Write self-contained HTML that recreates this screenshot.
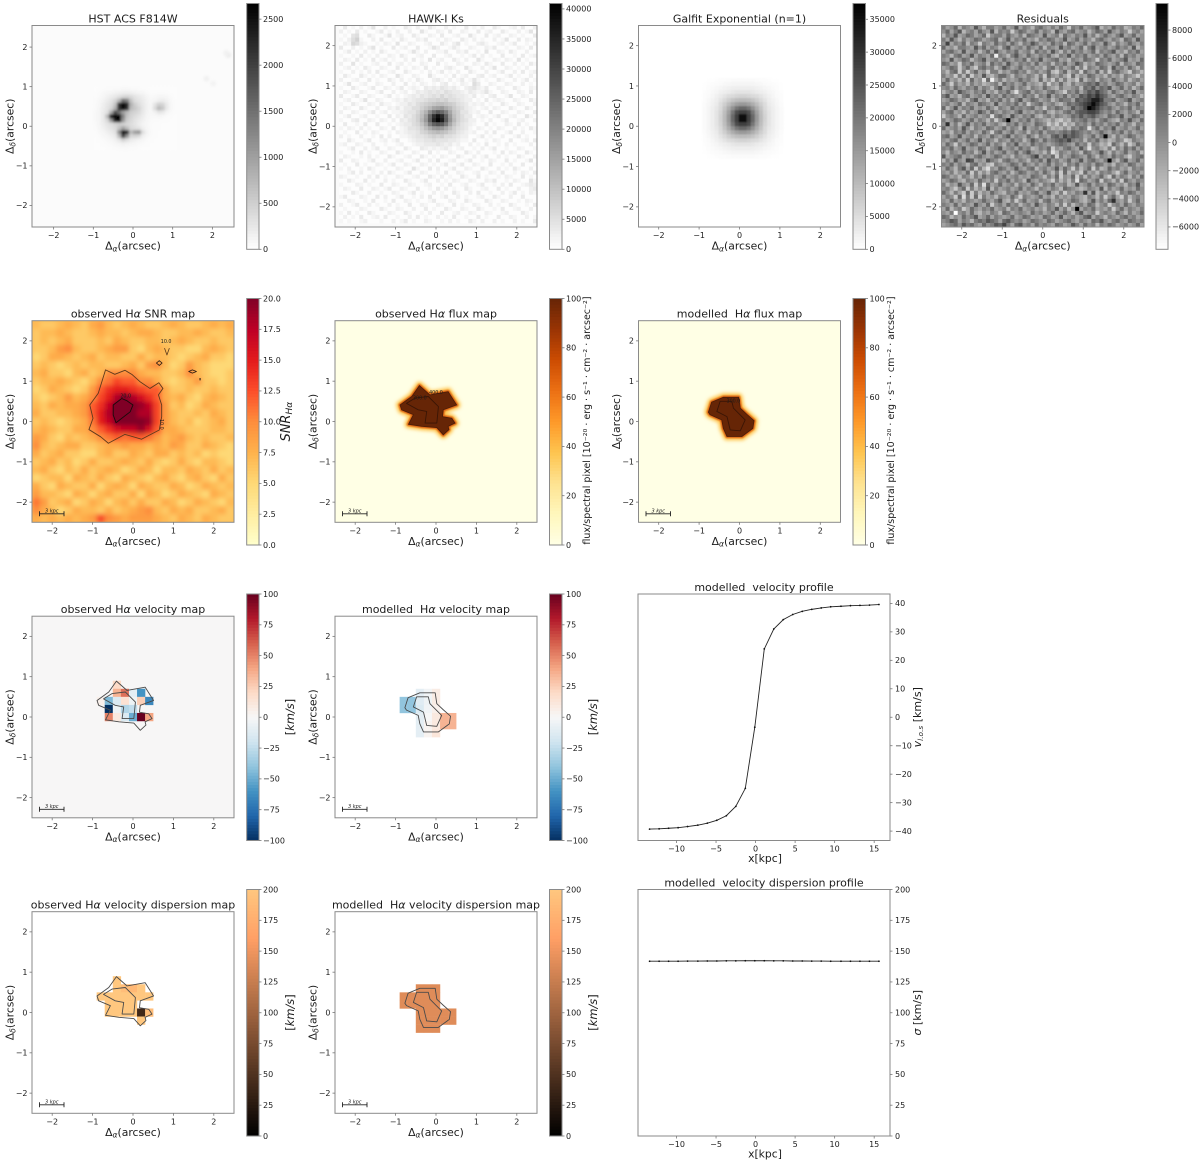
<!DOCTYPE html>
<html>
<head>
<meta charset="utf-8">
<title>Galaxy H-alpha kinematic maps</title>
<style>
html,body{margin:0;padding:0;background:#fff;}
#figure{display:block;filter:blur(0.3px);font-family:"DejaVu Sans","Liberation Sans",sans-serif;}
text{fill:#1c1c1c;}
</style>
</head>
<body>
<svg id="figure" xmlns="http://www.w3.org/2000/svg" width="1200" height="1162" viewBox="0 0 1200 1162">
<defs>
<filter id="blur-large" filterUnits="userSpaceOnUse" x="0" y="0" width="1200" height="1162"><feGaussianBlur stdDeviation="2.4"/></filter>
<filter id="blur-mid" filterUnits="userSpaceOnUse" x="0" y="0" width="1200" height="1162"><feGaussianBlur stdDeviation="1.8"/></filter>
<filter id="blur-hst" filterUnits="userSpaceOnUse" x="0" y="0" width="1200" height="1162"><feGaussianBlur stdDeviation="1.2"/></filter>
<filter id="blur-small" filterUnits="userSpaceOnUse" x="0" y="0" width="1200" height="1162"><feGaussianBlur stdDeviation="0.8"/></filter>
</defs>
</svg>
<script>
/* ---------- profile data ---------- */
const profileX = [-13.4,-12.2,-11,-9.8,-8.6,-7.3,-6.1,-4.9,-3.7,-2.5,-1.3,-0.1,1.1,2.3,3.5,4.7,5.9,7.1,8.3,9.5,10.8,12,13.2,14.4,15.6];
const velocityProfile = [-39.3,-39.2,-39,-38.8,-38.4,-37.9,-37.2,-36.2,-34.6,-31.3,-25,-3.5,24,31,34.3,36.1,37.2,37.9,38.4,38.8,39,39.2,39.3,39.4,39.6];
const dispersionProfile = [141.8,141.8,141.8,141.8,141.9,141.9,142,142,142.1,142.1,142.2,142.2,142.2,142.1,142.1,142,142,141.9,141.9,141.8,141.8,141.8,141.8,141.8,141.8];
const velocityProfileTicks = [-40,-30,-20,-10,0,10,20,30,40];
const dispersionProfileTicks = [0,25,50,75,100,125,150,175,200];
const profileXTicks = [-10,-5,0,5,10,15];

/* ---------- colorbar ticks ---------- */
const hstBarTicks = [0,500,1000,1500,2000,2500];
const hawkBarTicks = [5000,10000,15000,20000,25000,30000,35000,40000,0];
const galfitBarTicks = [0,5000,10000,15000,20000,25000,30000,35000];
const residualBarTicks = [-6000,-4000,-2000,0,2000,4000,6000,8000];
const snrBarTicks = [0,2.5,5,7.5,10,12.5,15,17.5,20];
const fluxBarTicks = [0,20,40,60,80,100];
const velocityBarTicks = [-100,-75,-50,-25,0,25,50,75,100];
const dispersionBarTicks = [0,25,50,75,100,125,150,175,200];
const mapTicks = [-2,-1,0,1,2];

/* ---------- HST core surface brightness, 0.1 arcsec cells, x -1.0..1.1, y 1.0..-0.6 ---------- */
const hstCore = [
[10,20,20,30,30,40,40,50,50,40,40,30,20,20,10,10,10,10,10,10,10],
[20,30,50,70,90,110,130,150,160,140,110,90,70,40,20,20,30,30,20,10,10],
[20,40,80,120,170,220,300,380,420,360,260,200,150,90,40,50,70,80,60,30,10],
[30,60,110,180,260,400,750,1500,1300,600,330,260,190,110,60,90,150,170,120,50,20],
[40,80,150,240,320,600,2200,3500,2300,800,500,330,220,120,70,260,480,420,200,60,20],
[40,90,170,270,400,800,2100,3400,2200,700,560,420,240,120,70,350,720,560,210,60,20],
[50,100,190,300,900,1900,1500,1000,700,500,430,350,210,110,60,120,240,200,90,40,20],
[50,100,200,700,2800,3400,3200,1300,600,430,340,260,170,90,50,50,60,50,30,20,10],
[50,100,200,380,1100,2400,3000,1100,500,380,280,200,130,70,40,30,30,20,20,10,10],
[40,90,170,270,330,420,500,460,390,330,260,170,100,60,30,20,20,10,10,10,10],
[30,70,130,210,280,350,600,950,650,380,320,260,140,70,30,20,20,10,10,10,10],
[20,50,90,140,200,290,1200,3000,2300,700,1000,1100,320,110,40,20,10,10,10,10,10],
[20,30,60,90,130,200,700,2000,1100,400,420,360,140,70,30,20,10,10,10,10,10],
[10,20,30,50,80,120,220,420,300,180,140,100,60,30,20,10,10,10,10,10,10],
[10,10,20,30,40,60,90,120,100,80,60,40,30,20,10,10,10,10,10,10,10],
[10,10,10,20,20,30,40,40,40,30,30,20,10,10,10,10,10,10,10,10,10]
];
const hstSpotX = [2.4,2.35,1.85,2.02];
const hstSpotY = [1.8,1.85,1.2,1.08];
const hstSpotValue = [200,150,150,130];

/* ---------- HAWK-I Ks (thousands), 0.1 arcsec cells, top row y=+2.6 ---------- */
const hawkSky = [
[1,0,2,0,1,0,3,0,0,2,1,0,0,3,0,1,0,0,2,0,1,0,0,4,0,2,0,1,0,3,0,0,1,2,0,0,4,1,0,0,2,0,3,0,1,0,2,0,1,0],
[0,3,0,1,0,2,0,1,4,0,0,2,0,1,0,0,3,1,0,2,0,0,3,1,0,0,2,0,1,0,0,3,0,1,0,2,0,0,3,1,0,0,1,2,0,3,0,0,2,1],
[2,0,1,0,3,0,1,0,0,1,3,0,1,0,2,0,0,2,0,0,4,1,0,0,2,1,0,3,0,0,2,1,0,0,3,0,1,2,0,0,3,1,0,0,2,0,1,4,0,0],
[0,1,0,4,5,0,0,3,1,0,0,1,4,0,1,2,0,0,3,1,0,0,2,1,0,3,0,0,1,2,0,0,4,1,0,0,3,0,1,2,0,0,2,1,0,1,0,0,3,1],
[1,0,2,5,7,1,0,0,2,0,3,0,0,1,0,3,1,0,0,2,1,3,0,0,1,0,2,1,0,0,3,1,0,2,0,1,0,0,2,0,1,4,0,0,3,0,2,1,0,0],
[0,2,1,6,5,2,1,0,0,1,0,2,1,0,4,0,0,2,1,0,0,1,2,0,0,3,1,0,2,4,0,1,0,0,2,3,1,0,0,1,2,0,1,3,0,0,1,0,2,0],
[3,0,0,2,0,1,0,2,4,0,1,0,0,3,0,1,2,0,0,3,0,0,1,4,2,0,0,1,3,1,0,0,2,1,0,0,2,1,3,0,0,1,0,0,2,1,0,3,0,1],
[0,1,3,0,1,0,2,0,1,0,3,1,0,0,1,0,0,1,4,1,0,2,0,0,1,1,3,0,0,2,1,3,0,0,1,0,4,0,0,2,1,0,3,1,0,0,2,0,0,2],
[1,0,0,1,0,3,0,1,0,2,0,0,2,1,0,3,1,0,0,1,2,0,0,3,0,0,1,2,0,0,1,0,1,3,0,2,0,1,0,0,3,0,0,1,0,3,0,1,2,0],
[0,2,1,0,3,0,1,0,3,0,1,2,0,1,0,0,2,0,3,0,1,0,4,0,1,2,0,0,3,1,0,2,0,0,4,1,0,0,2,1,0,2,1,0,4,0,1,0,0,3],
[2,0,0,4,0,1,0,0,1,2,0,0,3,0,1,2,0,1,0,0,2,1,0,0,3,0,1,0,0,2,1,0,0,2,1,0,3,1,0,0,3,0,0,2,0,1,0,3,1,0],
[0,1,2,0,1,0,3,1,0,0,2,1,0,0,3,0,1,0,2,1,0,3,0,1,0,0,2,3,1,0,0,4,1,0,0,2,0,1,4,0,0,2,1,0,1,0,2,0,0,1],
[1,0,0,2,0,1,0,2,0,3,0,0,1,2,0,0,3,1,0,0,1,0,2,0,1,3,0,1,0,2,0,0,3,1,0,0,2,0,0,1,3,0,0,2,0,3,0,1,2,0],
[0,3,1,0,0,3,1,0,1,0,2,1,0,0,4,1,0,0,2,1,0,0,4,1,0,0,1,0,3,0,1,2,0,0,2,3,0,1,2,0,0,1,3,0,1,0,0,2,0,1],
[2,0,0,1,2,0,0,3,0,1,0,0,3,1,0,2,0,1,0,3,1,0,0,2,3,1,0,2,0,1,3,0,1,4,1,0,1,0,0,3,1,0,0,2,0,1,3,0,1,0],
[0,1,4,0,0,1,2,0,0,2,1,0,0,2,0,0,3,0,1,0,2,1,0,1,0,2,3,0,1,0,2,1,0,5,3,0,0,2,1,0,0,2,1,0,0,2,0,1,0,2],
[1,0,0,3,1,0,0,1,3,0,0,2,1,0,1,3,0,1,2,1,0,3,2,3,2,4,3,2,3,1,0,2,3,4,2,1,3,0,0,2,1,0,0,3,1,0,0,2,1,0],
[0,2,1,0,0,2,1,0,0,1,3,0,0,2,0,1,2,0,1,3,2,3,4,3,4,3,5,4,3,3,2,1,3,2,1,2,4,1,0,0,2,1,0,0,2,1,0,3,0,0],
[3,0,0,1,3,0,0,2,1,0,0,1,3,0,1,0,1,2,3,2,4,3,4,5,4,6,4,5,4,3,3,2,1,3,0,1,0,2,3,0,0,1,4,0,0,2,1,0,0,3],
[0,1,2,0,0,1,4,0,0,2,1,0,0,1,2,1,3,2,3,4,4,5,6,6,7,6,7,5,5,4,3,2,2,0,1,0,3,0,1,2,1,0,0,2,1,0,0,3,1,0],
[1,0,0,3,1,0,0,2,1,0,3,1,1,0,1,2,2,4,3,5,6,7,8,9,10,10,9,8,7,5,4,3,1,2,1,2,0,1,0,0,3,1,0,0,2,1,0,0,2,1],
[0,2,1,0,0,3,1,0,0,2,0,0,2,1,3,1,3,3,5,5,7,9,11,14,15,16,13,11,8,6,5,3,2,1,0,1,2,0,2,1,0,0,3,1,0,0,3,1,0,0],
[2,0,0,2,1,0,0,1,3,0,1,2,0,1,1,2,3,4,4,6,9,12,18,23,26,24,20,14,9,7,4,4,2,1,2,0,0,3,0,0,2,1,0,0,2,1,0,0,3,1],
[0,1,3,0,0,1,2,0,0,1,0,0,3,0,2,1,4,3,5,7,10,15,24,33,38,34,25,16,10,7,5,3,3,0,1,2,1,0,1,3,0,0,1,2,0,0,4,1,0,0],
[1,0,0,2,3,0,0,2,1,0,2,1,0,2,0,3,2,4,5,7,11,16,25,35,40,36,26,17,11,7,5,4,2,2,0,1,0,2,0,0,1,3,0,0,1,2,0,0,2,0],
[0,3,0,0,1,0,3,0,0,3,0,0,1,0,1,2,3,3,5,6,9,13,20,25,27,26,21,14,9,6,4,3,2,1,0,0,3,0,1,0,0,2,1,0,3,0,1,0,0,2],
[1,0,2,1,0,2,0,1,0,0,2,1,0,3,0,1,2,4,4,5,7,10,13,16,17,16,13,10,7,5,4,3,1,0,2,1,0,1,0,2,1,0,0,2,0,1,0,3,1,0],
[0,1,0,0,3,0,1,0,2,1,0,0,1,0,2,1,2,3,3,4,6,7,9,10,11,10,9,7,6,4,3,2,1,2,0,0,2,0,3,0,0,1,3,0,0,2,0,0,1,2],
[2,0,1,0,0,2,0,0,1,0,3,0,2,0,0,1,1,2,3,4,4,5,6,7,6,7,5,5,4,3,2,2,0,0,1,3,0,1,0,0,2,0,0,1,3,0,1,0,0,0],
[0,0,3,1,0,0,1,3,0,0,1,2,0,1,3,0,0,1,2,3,3,4,4,5,4,4,4,3,3,2,1,1,0,3,0,0,1,0,2,1,0,0,3,0,0,1,2,0,3,1],
[1,2,0,0,2,1,0,0,2,0,0,1,0,0,1,2,0,0,1,2,2,3,3,3,4,3,2,3,1,2,0,0,2,0,1,0,3,0,0,1,0,2,0,1,0,0,0,2,0,0],
[0,0,1,3,0,0,2,0,1,3,0,0,2,1,0,0,3,1,0,0,3,2,1,2,1,2,3,1,0,1,2,0,0,1,0,2,0,1,3,0,0,1,0,0,2,1,0,0,1,3],
[1,0,0,1,0,3,0,1,0,0,2,1,0,0,3,1,0,0,2,1,0,0,3,0,1,0,0,2,1,0,0,3,1,0,2,0,0,0,1,0,3,0,2,1,0,0,3,1,0,0],
[0,2,1,0,0,1,0,2,0,1,0,0,3,1,0,0,1,2,0,0,3,1,0,1,0,2,1,0,0,3,1,0,0,2,0,1,3,0,0,2,0,1,0,0,3,1,0,0,2,1],
[3,0,0,2,1,0,0,1,3,0,0,2,0,0,1,2,0,0,1,3,0,0,2,0,3,0,0,1,2,0,0,1,3,0,0,1,0,2,1,0,0,3,0,1,0,0,1,4,0,0],
[0,1,0,0,3,0,1,0,0,2,1,0,1,3,0,0,2,1,0,0,2,1,0,1,0,1,3,0,0,1,3,0,0,2,1,0,0,3,0,0,1,0,2,0,0,3,0,0,1,2],
[1,0,2,0,0,1,0,3,1,0,0,1,0,0,2,1,0,0,4,1,0,0,3,0,2,0,0,1,3,0,0,2,1,0,0,3,1,0,0,2,0,1,0,3,1,0,0,2,0,0],
[0,0,1,3,0,2,0,0,1,0,2,0,3,1,0,0,1,3,0,0,2,1,0,0,1,0,3,0,0,2,1,0,0,1,2,0,0,2,1,0,3,0,0,1,0,2,1,0,3,1],
[2,1,0,0,1,0,0,2,0,3,0,1,0,0,2,1,0,0,1,2,0,0,3,1,0,2,0,1,0,0,3,1,0,0,3,0,1,0,0,1,0,2,1,0,0,3,0,1,0,0],
[0,0,3,1,0,0,3,0,1,0,0,2,0,1,0,0,3,1,0,0,1,3,0,0,2,0,1,0,2,1,0,0,2,1,0,0,2,1,3,0,0,1,0,2,1,0,0,4,1,0],
[1,0,0,0,2,1,0,1,0,0,3,0,0,2,1,0,0,2,1,0,0,1,2,0,0,1,0,3,0,0,1,2,0,0,1,3,0,0,1,0,2,0,3,0,0,1,2,3,2,0],
[0,2,1,0,0,3,0,0,2,1,0,1,3,0,0,2,1,0,0,3,0,0,1,0,3,0,2,0,1,0,0,3,1,0,0,1,2,0,0,3,0,1,0,0,2,0,0,2,3,1],
[0,0,0,3,1,0,0,2,0,0,1,0,0,2,1,0,0,1,3,0,1,0,0,2,0,1,0,0,3,1,0,0,2,0,3,0,0,1,0,0,2,0,1,3,0,1,0,2,1,0],
[1,3,0,0,0,2,1,0,0,3,0,2,0,0,1,3,0,0,1,0,2,0,3,0,0,1,3,0,0,2,0,1,0,0,1,2,0,0,3,1,0,0,2,0,0,3,0,0,0,2],
[0,0,2,1,0,0,1,0,3,0,0,1,0,3,0,0,2,1,0,1,0,0,1,3,0,0,0,2,1,0,0,3,1,0,0,0,3,1,0,0,2,1,0,0,1,0,2,1,0,0],
[2,0,0,1,3,0,0,2,0,1,0,0,2,0,1,0,0,3,0,0,2,1,0,0,2,1,0,0,3,0,1,0,0,2,1,0,0,2,0,1,0,0,3,1,0,0,1,0,3,0],
[0,1,0,0,0,2,1,0,0,0,3,1,0,0,2,1,0,0,2,0,0,3,0,1,0,0,3,1,0,0,2,1,0,0,3,1,0,0,1,0,3,0,0,1,2,0,0,2,0,1],
[1,0,3,0,1,0,0,3,1,0,0,0,2,1,0,0,3,1,0,0,1,0,2,0,0,3,0,0,1,2,0,0,2,1,0,0,2,1,0,0,1,2,0,0,0,3,1,0,0,2],
[0,2,0,1,0,3,0,0,1,2,0,3,0,0,1,0,0,2,0,3,0,1,0,0,2,0,1,0,3,0,0,1,0,0,3,0,1,0,0,3,0,0,2,1,0,0,2,0,1,0],
[1,0,1,0,0,1,2,0,0,0,1,0,0,2,0,1,3,0,1,0,0,2,1,0,0,1,0,2,0,1,0,0,3,1,0,2,0,0,2,0,1,0,0,2,0,1,0,0,3,0]
];
/* Galfit model (thousands), 0.1 arcsec cells, x -0.92..1.08, y 1.2..-0.8 */
const galfitCore = [
[0,0.1,0.2,0.3,0.4,0.5,0.6,0.7,0.8,0.8,0.8,0.8,0.7,0.6,0.5,0.4,0.3,0.2,0.1,0],
[0.1,0.3,0.4,0.6,0.8,1,1.2,1.4,1.5,1.5,1.5,1.5,1.4,1.2,1,0.8,0.6,0.4,0.3,0.1],
[0.2,0.4,0.7,1,1.3,1.7,2,2.3,2.5,2.5,2.5,2.5,2.3,2,1.7,1.3,1,0.7,0.4,0.2],
[0.3,0.6,1,1.5,2,2.5,3,3.5,4,4,4,4,3.5,3,2.5,2,1.5,1,0.6,0.3],
[0.4,0.8,1.3,2,3,4,5,5.5,6,6.5,6.5,6,5.5,5,4,3,2,1.3,0.8,0.4],
[0.5,1,1.7,2.5,4,5.5,7,8.5,9.5,10,10,9.5,8.5,7,5.5,4,2.5,1.7,1,0.5],
[0.6,1.2,2,3,5,7,9.5,12,14,15,15,14,12,9.5,7,5,3,2,1.2,0.6],
[0.7,1.4,2.3,3.5,5.5,8.5,12,16,20,22,22,20,16,12,8.5,5.5,3.5,2.3,1.4,0.7],
[0.8,1.5,2.5,4,6,9.5,14,20,26,28,28,26,20,14,9.5,6,4,2.5,1.5,0.8],
[0.8,1.5,2.5,4,6.5,10,15,22,28,35,35,28,22,15,10,6.5,4,2.5,1.5,0.8],
[0.8,1.5,2.5,4,6.5,10,15,22,28,35,35,28,22,15,10,6.5,4,2.5,1.5,0.8],
[0.8,1.5,2.5,4,6,9.5,14,20,26,28,28,26,20,14,9.5,6,4,2.5,1.5,0.8],
[0.7,1.4,2.3,3.5,5.5,8.5,12,16,20,22,22,20,16,12,8.5,5.5,3.5,2.3,1.4,0.7],
[0.6,1.2,2,3,5,7,9.5,12,14,15,15,14,12,9.5,7,5,3,2,1.2,0.6],
[0.5,1,1.7,2.5,4,5.5,7,8.5,9.5,10,10,9.5,8.5,7,5.5,4,2.5,1.7,1,0.5],
[0.4,0.8,1.3,2,3,4,5,5.5,6,6.5,6.5,6,5.5,5,4,3,2,1.3,0.8,0.4],
[0.3,0.6,1,1.5,2,2.5,3,3.5,4,4,4,4,3.5,3,2.5,2,1.5,1,0.6,0.3],
[0.2,0.4,0.7,1,1.3,1.7,2,2.3,2.5,2.5,2.5,2.5,2.3,2,1.7,1.3,1,0.7,0.4,0.2],
[0.1,0.3,0.4,0.6,0.8,1,1.2,1.4,1.5,1.5,1.5,1.5,1.4,1.2,1,0.8,0.6,0.4,0.3,0.1],
[0,0.1,0.2,0.3,0.4,0.5,0.6,0.7,0.8,0.8,0.8,0.8,0.7,0.6,0.5,0.4,0.3,0.2,0.1,0]
];

/* ---------- residuals (units of 1300 counts), 0.1 arcsec cells, top row y=+2.5 ---------- */
const residuals = [
[1,-1,0,2,-2,1,0,-1,3,0,-2,1,1,-1,0,2,-1,0,3,-1,1,0,-2,1,2,0,-1,1,-1,2,0,-3,1,0,2,-1,0,1,3,-2,0,-1,2,0,1,-2,-1,1,0,2],
[0,2,-1,1,3,-2,0,1,-1,2,0,-1,3,-2,1,0,1,-3,0,2,1,-1,0,2,-1,1,0,-2,3,0,-1,1,2,-1,0,1,-2,0,2,1,-1,3,0,-1,1,0,-3,0,1,-1],
[-2,1,0,3,-1,0,2,1,-1,0,2,-3,0,1,1,-1,2,0,-1,1,-2,2,1,0,-1,3,-1,0,1,-2,2,0,-1,1,0,3,-1,1,-2,0,2,0,-1,1,3,-1,0,2,-1,0],
[1,-1,3,0,-2,1,-1,0,2,1,-1,0,1,2,-2,0,3,-1,1,0,2,-1,0,-2,1,0,2,1,-1,0,3,-1,0,2,-1,1,0,-2,1,2,0,-1,1,0,-2,2,1,-1,3,0],
[0,4,-1,1,0,2,-2,1,0,-3,1,0,-1,2,0,1,-1,2,0,-2,1,0,3,1,-1,0,-1,2,0,1,-2,2,1,-1,0,2,-1,1,0,-1,3,0,-2,1,-1,0,2,0,-1,1],
[2,-1,0,-2,1,1,0,-1,3,0,2,-1,1,0,-2,1,3,-1,0,1,-1,2,0,-1,2,-2,1,0,-1,3,0,1,-1,0,2,-2,1,3,-1,0,1,-1,0,2,0,1,-1,3,-2,0],
[-1,1,2,0,-1,3,-1,0,1,-2,0,2,-1,3,0,-1,1,0,2,-1,0,1,-2,2,0,1,-1,3,0,-2,1,-1,2,0,1,-1,0,2,-2,1,0,1,3,-1,0,-2,1,0,2,-1],
[1,0,-2,1,2,-1,0,3,-1,1,0,-1,2,-5,1,0,-2,1,3,0,-1,2,0,-1,1,0,2,-1,-2,1,0,3,-1,1,0,2,-1,0,1,-1,2,0,-1,1,-2,2,0,1,-1,0],
[0,-1,3,-1,0,2,1,-2,0,1,3,-1,0,1,-1,2,0,-1,1,0,2,-2,1,0,3,-1,0,1,2,-1,0,-2,1,0,-1,2,1,0,-3,1,0,2,-1,0,1,3,-1,0,-1,2],
[2,1,-1,0,-3,1,0,2,-1,0,1,-2,2,0,1,-1,3,0,-1,1,0,1,-1,2,-1,0,1,-2,1,0,2,-1,0,3,1,-2,0,-1,2,1,0,-1,0,2,-2,1,0,-1,2,1],
[-1,0,2,1,-3,0,2,-1,-3,1,2,0,1,-2,0,3,1,-1,0,2,-1,0,1,-1,0,-2,1,2,-1,1,-1,0,2,-2,1,-3,1,0,-1,2,1,-2,3,0,1,-1,2,0,-2,1],
[0,-2,1,2,-3,1,-3,0,2,-1,0,-3,1,1,-2,0,-1,1,2,0,1,-2,0,1,-1,0,2,-2,-3,0,2,-2,0,1,-3,2,0,-1,2,-2,1,-3,1,2,0,-1,-3,1,0,-2],
[1,-1,0,-3,1,-2,2,-3,0,-1,3,-1,-2,0,2,2,0,-2,1,0,-1,1,0,-2,1,-3,2,0,-1,1,-1,-3,2,-2,0,-1,2,1,-1,0,-2,1,-1,0,-2,1,0,-1,-3,0],
[-1,2,-1,0,-2,1,-3,2,-1,0,-4,2,-5,-1,1,-2,0,-1,0,2,0,1,-1,-2,2,-2,0,-3,1,-2,1,-2,-1,-3,2,-2,0,1,-2,1,0,-1,2,0,-1,1,-2,0,1,-1],
[2,0,-3,1,-1,0,-2,1,-1,0,-2,-1,0,1,-2,2,0,1,-1,0,2,-1,0,-1,-2,1,-3,0,-1,2,-1,-2,1,-1,0,1,2,1,3,0,1,-1,0,2,1,-1,0,1,-2,0],
[0,1,-1,2,0,-1,1,0,2,-1,1,0,-2,1,3,-1,0,2,-1,1,0,-2,1,0,-1,2,0,-1,-2,1,-1,-1,0,1,-2,2,1,3,0,2,1,3,-1,0,2,-1,1,-2,0,2],
[-2,0,1,-1,3,1,0,-1,1,0,2,-1,0,-2,1,0,2,-1,-4,0,1,2,-1,1,0,-1,1,2,0,-1,-3,1,0,2,-1,1,3,2,4,2,1,-1,2,0,-1,1,0,3,-1,0],
[1,3,-1,0,-2,1,2,-1,0,1,-1,3,0,1,-1,2,0,1,0,-1,2,0,1,-2,1,0,3,-1,1,0,2,-1,1,0,3,2,4,3,5,3,2,0,-1,1,2,0,-1,1,0,-2],
[-1,0,2,1,-1,0,-2,1,3,-1,0,-2,1,0,2,-1,1,-2,1,3,-1,0,2,1,-1,0,1,-2,0,2,1,1,-1,3,2,3,4,6,6,4,1,1,2,-1,0,1,3,-1,0,1],
[0,1,-1,0,2,-2,1,0,-1,2,1,0,-1,3,-1,0,1,0,2,-1,1,-3,0,1,2,-1,0,1,-1,-2,0,2,1,2,3,4,5,7,5,3,2,0,-1,1,0,-2,1,0,2,-1],
[2,-2,0,3,-1,1,0,2,-1,0,-1,2,0,-2,1,0,-1,2,0,1,0,1,2,-1,0,-3,1,0,2,1,-1,0,3,1,2,4,10,6,4,2,1,2,0,-1,1,0,2,-1,1,0],
[-1,1,2,-1,0,-2,1,-1,0,3,1,-1,2,0,-1,1,0,-1,1,3,-1,0,-1,1,0,2,-1,-2,0,-1,1,2,0,2,3,3,4,4,3,1,0,1,-1,2,0,-1,1,0,-2,2],
[-3,0,1,0,-2,2,-1,0,1,-1,0,1,-4,1,2,0,-1,3,0,-1,1,0,2,-1,-2,0,1,-1,1,0,-1,0,2,1,3,1,2,3,1,0,-1,2,1,0,3,-1,0,2,1,-1],
[1,-1,0,2,1,-1,0,2,-1,1,0,-2,1,-3,0,2,9,0,-1,1,0,2,-1,1,0,-1,-2,0,-2,-3,-1,-2,1,0,1,2,0,1,-1,1,2,0,-1,-2,1,0,3,0,-1,2],
[0,5,-1,1,-2,0,3,-1,1,0,2,-1,0,1,-1,-2,1,0,2,-1,1,0,-1,2,1,0,-3,-1,-3,0,-3,-1,-2,1,0,1,-1,2,0,1,-1,1,0,2,-1,1,0,-2,1,0],
[2,-1,0,1,-1,3,0,-2,1,0,-1,2,1,-1,0,2,-1,1,0,-2,3,-1,0,1,-1,2,0,-2,-1,-2,0,-2,1,0,2,1,-4,0,2,-1,1,0,3,-1,0,1,-1,0,2,-1],
[-1,0,-2,1,0,2,-1,1,0,-1,2,0,-3,1,2,-1,0,2,-1,0,1,-2,1,0,2,-1,1,1,0,1,2,1,3,2,1,0,1,-1,0,2,0,-1,1,0,2,-1,1,-1,0,1],
[1,2,-1,0,3,-1,0,1,-2,1,0,-1,2,0,-1,1,3,-1,1,0,-1,2,0,-2,1,0,-1,2,3,1,4,2,3,2,1,-1,0,2,-1,1,7,0,-2,1,-1,0,2,1,-1,0],
[0,-1,1,2,-1,0,2,-1,0,3,-1,1,0,-2,1,0,-1,2,0,1,-2,0,3,1,-1,2,0,1,2,3,2,4,1,0,1,-2,1,0,2,-1,0,-2,-1,1,0,-3,-2,1,0,-1],
[-1,2,0,-3,1,-1,0,2,1,-1,0,2,-1,1,0,-2,1,0,3,-1,0,-1,2,0,1,0,-1,0,1,2,1,0,-1,2,0,1,-3,1,0,-2,-1,-3,2,0,-2,1,-3,-1,2,0],
[1,0,2,-1,0,3,-1,0,-1,2,1,-2,0,1,3,-1,0,1,-1,2,0,1,-2,-1,1,0,2,-3,0,-1,1,2,0,-1,3,0,-4,0,1,-1,-2,1,-3,1,-1,2,0,2,-1,1],
[0,-2,1,0,-1,2,0,1,-2,0,3,-1,1,-1,0,2,-1,0,2,-1,1,3,0,-1,0,-2,1,-4,-2,1,0,-1,1,0,-2,2,1,-1,0,3,0,-2,1,-1,0,2,-1,0,1,-2],
[3,-1,0,1,2,-1,0,-1,1,2,0,-1,0,2,1,-1,0,-2,1,0,-1,0,2,4,-1,1,0,2,-3,1,-1,0,2,1,0,-1,2,0,-2,1,0,-1,2,0,1,-1,-3,0,1,2],
[-2,1,-1,3,0,-1,4,3,-1,0,-1,3,1,0,-2,1,2,0,-1,1,0,-2,1,0,2,-1,3,0,1,-1,0,2,-1,0,3,-1,1,2,0,-1,1,7,0,-2,1,3,-1,0,2,-1],
[1,0,2,-1,1,0,-2,1,2,-1,0,-2,-3,1,0,-1,0,2,1,-1,2,0,-1,1,-1,0,2,-1,1,0,-2,1,0,2,-1,0,1,-1,2,1,-1,0,-2,1,0,-1,2,1,-1,0],
[-1,2,0,-2,1,3,-1,2,-3,1,-2,-4,0,-1,2,1,-1,0,3,0,-1,1,2,-2,0,1,-1,0,3,-1,2,0,-3,1,-2,0,2,-3,1,-2,-1,2,0,1,-1,0,-2,1,0,1],
[0,-1,1,-2,0,-1,2,-3,1,-2,0,-2,1,2,0,-1,1,-2,0,2,1,-1,0,1,-1,2,0,-2,1,-3,2,-2,0,-1,-3,2,-1,0,-2,1,0,1,-1,-3,0,2,-1,0,1,-1],
[2,1,-1,0,-2,1,0,-2,1,-1,2,0,1,-1,0,2,-1,0,1,-1,0,-1,2,1,0,-2,1,-1,2,-3,0,-1,2,-3,1,-2,1,-1,0,2,-1,-3,2,-1,1,0,-2,1,-1,2],
[-1,0,2,1,-1,-2,1,0,-1,2,0,-1,1,-3,1,0,2,-1,1,0,-2,3,0,-1,1,0,-1,-3,1,-2,0,-2,1,-4,2,1,-1,0,2,-3,1,0,-2,1,-3,2,0,-1,1,0],
[1,-2,0,-1,3,0,-1,2,-3,1,-4,2,-1,0,2,-1,0,1,-2,1,0,-1,2,0,-2,1,0,2,-1,0,1,-2,-1,3,-1,0,2,-1,1,0,-1,2,1,-1,0,-2,1,0,3,-1],
[0,1,-1,-3,0,2,-3,1,-2,0,-2,3,-2,1,-1,0,1,-1,0,2,-1,1,0,-2,1,0,-1,1,0,-2,2,1,0,-1,-2,-1,1,0,-1,3,-2,1,-1,0,2,-1,0,-1,2,0],
[2,0,-2,1,-1,-3,2,-3,1,-2,0,-1,2,0,-1,-2,1,0,2,-1,0,-1,1,2,-1,0,3,-1,-2,1,-3,0,-1,1,0,5,-1,3,-2,0,1,-1,0,-3,1,0,2,1,-1,0],
[-1,1,0,-3,2,-4,1,-3,2,-3,1,-1,0,-2,1,0,-1,2,0,-3,1,0,-1,0,2,-1,0,-2,1,-1,0,-1,1,0,-1,-2,1,0,-2,1,-3,0,2,-1,-3,1,-2,0,1,-1],
[0,-1,2,-1,0,-2,1,0,-1,0,2,0,-1,1,3,-1,-2,1,-3,0,2,-1,0,1,-2,1,2,-1,0,1,-1,0,2,1,-1,-2,0,3,-1,1,-1,2,5,0,-1,1,-3,0,2,-1],
[1,0,-1,2,-1,1,0,-1,3,0,-1,2,-3,0,1,-1,2,0,1,-2,0,1,-1,3,0,-1,1,0,-2,1,-3,1,-2,0,1,-1,2,1,-2,0,1,-3,0,1,-1,2,0,-1,1,0],
[-1,2,-2,0,1,-3,-1,2,0,-1,1,0,2,-1,0,1,-2,1,0,2,-1,0,1,-1,0,-2,1,0,3,-1,1,-2,0,8,-1,1,0,2,-1,0,-1,1,-3,0,2,-1,1,0,-1,1],
[0,-1,1,-7,0,1,-1,2,-1,-2,0,-1,1,0,-2,2,1,-1,0,1,0,-1,2,0,1,-1,0,2,-1,0,2,0,-2,1,3,-1,0,1,-3,0,1,0,-1,2,0,-2,1,-1,0,2],
[2,1,-2,0,-1,2,0,1,3,-1,0,2,-1,1,0,-1,0,2,-1,0,2,1,-1,0,-1,2,1,-1,0,3,-1,0,1,-1,0,2,3,-1,1,0,-2,1,0,-1,1,2,0,1,-1,0],
[0,1,3,2,-1,1,0,-2,1,2,1,3,2,1,-1,2,3,1,0,1,-1,0,2,1,0,-1,2,1,-1,0,1,2,0,-1,1,0,-1,2,1,3,0,-1,1,2,0,-1,2,1,0,1],
[-1,0,1,2,0,3,1,2,0,-1,2,0,1,3,2,4,1,-1,2,3,0,1,-1,2,0,1,0,-1,2,1,-1,0,3,1,-1,2,0,1,-2,1,0,2,1,-1,0,1,-1,0,2,-1]
];

/* ---------- SNR map, 0.2 arcsec cells, top row y=+2.4 ---------- */
const snrGrid = [
[7,6,6,7,8,7,6,8,9,7,6,7,8,7,6,6,7,8,7,6,6,7,8,7,8],
[6,7,7,8,7,6,6,7,8,7,7,6,7,8,8,7,6,6,7,7,8,7,6,6,7],
[6,7,6,7,8,6,6,6,7,6,8,7,6,6,7,7,6,7,8,7,6,6,7,6,6],
[6,6,7,9,10,7,6,6,7,8,9,9,6,5,7,8,7,6,6,5,5,7,8,7,6],
[5,6,8,8,7,6,7,8,6,7,7,6,6,8,6,7,7,6,5,6,7,8,6,6,5],
[6,7,6,5,6,7,6,7,7,6,6,7,8,6,9,10,7,5,6,9,7,6,5,5,5],
[7,8,6,6,5,7,8,6,7,10,10,10,10,8,7,7,6,6,7,10,7,6,5,5,6],
[6,7,7,8,7,6,5,7,10,11,13,12,12,10,10,8,6,5,6,7,9,6,6,5,6],
[5,6,8,7,6,5,6,9,12,14,15,15,14,13,12,12,8,6,6,7,6,6,7,6,6],
[6,5,6,7,9,7,8,10,13,15,18,20,18,16,14,12,8,7,8,6,5,7,8,7,6],
[7,6,8,7,8,8,9,12,14,17,20,21,20,19,17,13,9,6,7,5,6,8,7,6,6],
[8,6,6,7,7,8,9,12,15,18,21,21,20,18,18,13,9,7,6,6,7,6,8,7,6],
[6,7,6,5,6,7,8,11,15,17,20,20,20,20,19,13,9,7,6,7,5,6,7,8,6],
[7,8,7,6,6,8,8,10,12,14,16,17,17,19,16,12,8,8,7,6,6,6,7,7,6],
[9,8,6,5,7,6,7,8,10,11,12,11,12,12,11,9,7,8,9,7,6,7,6,6,7],
[10,7,6,7,8,8,6,6,7,8,8,9,8,8,7,8,7,9,8,6,6,8,7,6,5],
[8,6,7,8,6,6,5,5,7,8,6,6,8,7,6,8,8,6,7,6,7,5,6,5,5],
[6,7,8,6,7,5,6,8,6,6,7,8,7,6,8,6,5,6,8,6,5,7,7,6,5],
[7,8,6,5,7,6,8,6,7,8,7,5,6,8,7,5,7,7,6,8,7,6,8,6,7],
[5,6,7,7,5,8,7,6,8,6,5,8,7,6,5,7,8,6,5,7,8,6,5,8,6],
[8,6,5,8,7,6,6,8,5,7,8,7,5,8,7,6,6,8,7,5,6,8,7,6,7],
[9,7,7,6,5,8,7,5,7,8,6,6,8,5,8,7,5,6,8,7,6,5,8,7,6],
[11,9,6,7,8,5,6,8,7,5,7,8,6,8,6,6,8,7,5,6,8,7,6,5,7],
[10,8,7,5,6,8,7,7,6,8,6,7,8,9,10,7,6,8,7,8,6,6,7,8,6],
[8,7,8,7,8,7,8,9,13,10,9,8,9,9,9,8,7,6,8,7,6,8,7,6,6]
];
const snrOuterX = [-0.68,-0.45,-0.2,-0.03,0.17,0.42,0.64,0.74,0.63,0.71,0.71,0.65,0.21,-0.2,-0.61,-0.8,-1.09,-0.99,-1.07,-0.86];
const snrOuterY = [1.28,1.17,1.27,1.17,0.99,0.82,0.96,0.82,0.66,0.41,0.12,-0.21,-0.44,-0.32,-0.54,-0.38,-0.2,0.08,0.41,0.7];
const snrInnerX = [-0.49,-0.28,-0.16,0,-0.07,-0.42,-0.49];
const snrInnerY = [0.41,0.57,0.52,0.41,0.24,-0.03,0.16];
const snrIslandAX = [0.58,0.65,0.72,0.65];
const snrIslandAY = [1.45,1.51,1.45,1.39];
const snrIslandBX = [1.38,1.47,1.57,1.47];
const snrIslandBY = [1.24,1.28,1.24,1.2];
const snrVeeX = [0.78,0.84,0.9];
const snrVeeY = [1.82,1.65,1.82];
const snrDotX = [1.66];
const snrDotY = [1.05];

/* ---------- flux contours (arcsec) ---------- */
const obsOuterX = [-0.89,-0.6,-0.41,-0.15,0.3,0.51,0.18,0.16,0.39,0.47,0.3,0.32,0.18,0.02,-0.35,-0.68,-0.56,-0.85];
const obsOuterY = [0.41,0.62,0.89,0.66,0.74,0.41,0.29,0.12,0.08,-0.04,-0.12,-0.2,-0.33,-0.15,-0.12,-0.07,0.17,0.29];
const obsInnerX = [-0.73,-0.44,-0.23,-0.27,0.02,0.06,-0.19,-0.52];
const obsInnerY = [0.45,0.29,0.25,-0.04,-0.04,0.37,0.62,0.58];
const modelOuterX = [-0.77,-0.69,-0.4,-0.02,0.02,0.18,0.36,0.33,0.06,-0.31,-0.4,-0.44,-0.73];
const modelOuterY = [0.23,0.48,0.6,0.6,0.33,0.18,0.02,-0.17,-0.37,-0.37,-0.17,0.04,0.17];
const modelInnerX = [-0.48,-0.56,-0.31,-0.23,0.02,0.14,-0.15,-0.19];
const modelInnerY = [0.5,0.25,0.12,-0.21,-0.23,0.04,0.33,0.5];

/* ---------- kinematic cells, 0.2 arcsec, x -0.9..0.5, rows y 0.9..-0.3 / 0.7..-0.5 ---------- */
const obsVelocity = [
[null,null,20,null,null,null,null],
[null,null,35,55,-10,-60,null],
[5,-45,-15,15,-5,25,-65],
[null,-100,-5,-30,-25,null,null],
[null,50,10,-15,-50,100,40]
];
const modelVelocity = [
[null,null,-10,-3,8,null,null],
[-40,-40,-12,-5,8,null,null],
[-40,-40,-15,-3,5,null,null],
[null,null,-10,0,10,35,35],
[null,null,-10,3,10,35,35],
[null,null,-10,3,12,null,null]
];
const obsDispersion = [
[null,null,200,null,null,null,null],
[null,null,200,190,185,200,null],
[200,200,200,200,200,200,200],
[null,200,200,200,200,null,null],
[null,200,200,200,200,40,190],
[null,null,null,null,null,200,null]
];
const modelDispersion = [
[null,null,140,140,140,null,null],
[140,140,140,140,140,null,null],
[140,140,140,140,140,null,null],
[null,null,140,140,140,140,140],
[null,null,140,140,140,140,140],
[null,null,140,140,140,null,null]
];

/* ---------- colormaps ---------- */
const cmapYlOrRd = ['#ffffcc','#ffeda0','#fed976','#feb24c','#fd8d3c','#fc4e2a','#e31a1c','#bd0026','#800026'];
const cmapYlOrBr = ['#ffffe5','#fff7bc','#fee391','#fec44f','#fe9929','#ec7014','#cc4c02','#993404','#662506'];
const cmapRdBu = ['#053061','#2166ac','#4393c3','#92c5de','#d1e5f0','#f7f7f7','#fddbc7','#f4a582','#d6604d','#b2182b','#67001f'];
const cmapCopper = ['#000000','#402819','#805033','#bf784c','#ff9f65','#ffc77f'];
const cmapGray = ['#ffffff','#000000'];

/* ---------- helpers ---------- */
const NS = 'http://www.w3.org/2000/svg';
const root = document.getElementById('figure');
function make(tag, parent, attrs) {
  const e = document.createElementNS(NS, tag);
  for (const k in attrs) e.setAttribute(k, attrs[k]);
  parent.appendChild(e);
  return e;
}
function hex(c) { return [parseInt(c.slice(1,3),16),parseInt(c.slice(3,5),16),parseInt(c.slice(5,7),16)]; }
function colorAt(stops, t) {
  t = Math.max(0, Math.min(1, t));
  const p = t * (stops.length - 1), i = Math.min(stops.length - 2, Math.floor(p)), f = p - i;
  const a = hex(stops[i]), b = hex(stops[i + 1]);
  return 'rgb(' + a.map((v, k) => Math.round(v + (b[k] - v) * f)).join(',') + ')';
}
function fmtTick(v, dec) {
  const s = dec ? Math.abs(v).toFixed(dec) : String(Math.abs(v));
  return (v < 0 ? '\u2212' : '') + s;
}
let clipCounter = 0;

function makePanel(name, left, right, top, bottom, xmin, xmax, ymin, ymax) {
  const g = make('g', root, {});
  
  
  const id = 'clip' + (++clipCounter);
  const cp = make('clipPath', g, { id: id });
  make('rect', cp, { x: left, y: top, width: right - left, height: bottom - top });
  const plot = make('g', g, { 'clip-path': 'url(#' + id + ')' });
  
  
  return {
    name, g, plot, left, right, top, bottom,
    sx: v => left + (v - xmin) / (xmax - xmin) * (right - left),
    sy: v => bottom - (v - ymin) / (ymax - ymin) * (bottom - top)
  };
}
function background(p, color) {
  const r = make('rect', p.plot, { x: p.left, y: p.top, width: p.right - p.left, height: p.bottom - p.top, fill: color });
  
  
}
function drawCells(p, layer, grid, xl, xr, yt, yb, stops, vmin, vmax, grow) {
  const nr = grid.length, nc = grid[0].length;
  const dx = (xr - xl) / nc, dy = (yt - yb) / nr;
  for (let i = 0; i < nr; i++) {
    for (let j = 0; j < grid[i].length; j++) {
      const v = grid[i][j];
      if (v === null) continue;
      const x0 = p.sx(xl + j * dx), x1 = p.sx(xl + (j + 1) * dx);
      const y0 = p.sy(yt - i * dy), y1 = p.sy(yt - (i + 1) * dy);
      const c = make('rect', layer, { x: x0, y: y0, width: x1 - x0 + grow, height: y1 - y0 + grow, fill: colorAt(stops, (v - vmin) / (vmax - vmin)) });
      
      
    }
  }
}
function blurLayer(p, id) {
  const l = make('g', p.plot, { filter: 'url(#' + id + ')' });
  
  
  return l;
}
function polyPoints(p, xs, ys) { return xs.map((x, i) => p.sx(x).toFixed(2) + ',' + p.sy(ys[i]).toFixed(2)).join(' '); }
function contour(p, xs, ys, stroke, width, closed) {
  const c = make(closed === false ? 'polyline' : 'polygon', p.plot, { points: polyPoints(p, xs, ys), fill: 'none', stroke: stroke, 'stroke-width': width, 'stroke-linejoin': 'round' });
  
  
}
function fluxBlob(p, outX, outY, inX, inY) {
  const glow1 = make('polygon', blurLayer(p, 'blur-mid'), { points: polyPoints(p, outX, outY), fill: '#fec44f', stroke: '#fec44f', 'stroke-width': 8, 'stroke-linejoin': 'round' });
  
  
  const glow2 = make('polygon', blurLayer(p, 'blur-small'), { points: polyPoints(p, outX, outY), fill: '#d95f0e', stroke: '#d95f0e', 'stroke-width': 3.5, 'stroke-linejoin': 'round' });
  
  
  const body = make('polygon', p.plot, { points: polyPoints(p, outX, outY), fill: '#662506', stroke: '#4a1c08', 'stroke-width': 0.8 });
  
  
  contour(p, inX, inY, '#3a1505', 0.9);
}
function frameAndTicks(p, xTicks, yTicks, yOnRight) {
  const f = make('rect', p.g, { x: p.left, y: p.top, width: p.right - p.left, height: p.bottom - p.top, fill: 'none', stroke: '#8a8a8a', 'stroke-width': 1 });
  
  
  xTicks.forEach(v => {
    const t = make('line', p.g, { x1: p.sx(v), x2: p.sx(v), y1: p.bottom, y2: p.bottom + 2.5, stroke: '#777', 'stroke-width': 0.8 });
    
    
    const l = make('text', p.g, { x: p.sx(v), y: p.bottom + 11, 'text-anchor': 'middle', 'font-size': 8 });
    l.textContent = fmtTick(v);
    
    
  });
  yTicks.forEach(v => {
    const x2 = yOnRight ? p.right + 2.5 : p.left - 2.5;
    const e = yOnRight ? p.right : p.left;
    const t = make('line', p.g, { x1: e, x2: x2, y1: p.sy(v), y2: p.sy(v), stroke: '#777', 'stroke-width': 0.8 });
    
    
    const l = make('text', p.g, { x: yOnRight ? p.right + 5 : p.left - 4.5, y: p.sy(v) + 2.8, 'text-anchor': yOnRight ? 'start' : 'end', 'font-size': 8 });
    l.textContent = fmtTick(v);
    
    
  });
}
function title(p, markup) {
  const t = make('text', p.g, { x: (p.left + p.right) / 2, y: p.top - 3, 'text-anchor': 'middle', 'font-size': 11 });
  t.innerHTML = markup;
  
  
}
function mapLabels(p) {
  const xl = make('text', p.g, { x: (p.left + p.right) / 2, y: p.bottom + 22.5, 'text-anchor': 'middle', 'font-size': 10.8 });
  xl.innerHTML = '\u0394<tspan font-style="italic" font-size="7.6" dy="1.8">\u03b1</tspan><tspan dy="-1.8">(arcsec)</tspan>';
  
  
  const cy = (p.top + p.bottom) / 2, bx = p.left - 18.5;
  const yl = make('text', p.g, { x: bx, y: cy, 'text-anchor': 'middle', 'font-size': 10.8, transform: 'rotate(-90 ' + bx + ' ' + cy + ')' });
  yl.innerHTML = '\u0394<tspan font-style="italic" font-size="7.6" dy="1.8">\u03b4</tspan><tspan dy="-1.8">(arcsec)</tspan>';
  
  
}
function colorbar(name, left, right, top, bottom, vmin, vmax, stops, ticks, dec) {
  const g = make('g', root, {});
  
  
  const n = 80, h = (bottom - top) / n;
  for (let i = 0; i < n; i++) {
    const s = make('rect', g, { x: left, y: top + i * h, width: right - left, height: h + 0.4, fill: colorAt(stops, 1 - (i + 0.5) / n) });
    
    
  }
  const f = make('rect', g, { x: left, y: top, width: right - left, height: bottom - top, fill: 'none', stroke: '#8a8a8a', 'stroke-width': 1 });
  
  
  ticks.forEach(v => {
    const y = bottom - (v - vmin) / (vmax - vmin) * (bottom - top);
    const t = make('line', g, { x1: right, x2: right + 2.5, y1: y, y2: y, stroke: '#777', 'stroke-width': 0.8 });
    
    
    const l = make('text', g, { x: right + 4, y: y + 2.8, 'font-size': 8 });
    l.textContent = fmtTick(v, dec);
    
    
  });
  return g;
}
function barLabel(g, x, y, size, markup) {
  const t = make('text', g, { x: x, y: y, 'text-anchor': 'middle', 'font-size': size, transform: 'rotate(-90 ' + x + ' ' + y + ')' });
  t.innerHTML = markup;
  
  
}
function scaleBar(p) {
  const x1 = p.left + 7.5, x2 = p.left + 32, y = p.bottom - 8.5;
  const b = make('path', p.g, { d: 'M' + x1 + ' ' + (y - 2.5) + 'V' + (y + 2.5) + 'M' + x1 + ' ' + y + 'H' + x2 + 'M' + x2 + ' ' + (y - 2.5) + 'V' + (y + 2.5), fill: 'none', stroke: '#222', 'stroke-width': 0.9 });
  
  
  const t = make('text', p.g, { x: (x1 + x2) / 2, y: y - 1.5, 'text-anchor': 'middle', 'font-size': 5, 'font-style': 'italic' });
  t.textContent = '3 kpc';
  
  
}
function tinyLabel(p, x, y, text, rot) {
  const px = p.sx(x), py = p.sy(y);
  const t = make('text', p.g, { x: px, y: py, 'text-anchor': 'middle', 'font-size': 4.8, transform: rot ? 'rotate(' + rot + ' ' + px + ' ' + py + ')' : '' });
  t.textContent = text;
  
  
}

const A = '<tspan font-style="italic">\u03b1</tspan>';
const DS = '\u00a0 ';
const colL = [32, 335, 638.5, 941.5];
const colR = [234, 537, 840.5, 1144];
const barL = [246.7, 549.5, 853, 1156];
const barR = [259, 562, 865.5, 1168];
const rowTop = [25.5, 320.7, 616.2, 911.7];
const rowBot = [227, 522.3, 817.8, 1113.3];
const barTop = [3.5, 298.5, 594, 889.5];
const barBot = [249.3, 545, 840.5, 1136];

/* ---------- row 1: imaging ---------- */
(function () {
  let p = makePanel('hst-panel', colL[0], colR[0], rowTop[0], rowBot[0], -2.545, 2.545, -2.545, 2.545);
  background(p, '#fbfbfb');
  let l = blurLayer(p, 'blur-hst');
  drawCells(p, l, hstCore, -1.0, 1.1, 1.0, -0.6, cmapGray, -20, 2670, 0.4);
  hstSpotX.forEach((x, i) => {
    const c = make('circle', l, { cx: p.sx(x), cy: p.sy(hstSpotY[i]), r: 3, fill: colorAt(cmapGray, hstSpotValue[i] / 2670) });
    
    
  });
  frameAndTicks(p, mapTicks, mapTicks);
  title(p, 'HST ACS F814W');
  mapLabels(p);
  colorbar('hst-colorbar', barL[0], barR[0], barTop[0], barBot[0], 0, 2670, cmapGray, hstBarTicks);

  p = makePanel('hawk-panel', colL[1], colR[1], rowTop[0], rowBot[0], -2.5, 2.5, -2.5, 2.5);
  background(p, '#fafafa');
  drawCells(p, p.plot, hawkSky, -2.4, 2.6, 2.6, -2.4, cmapGray, -0.4, 40.9, 0.3);
  frameAndTicks(p, mapTicks, mapTicks);
  title(p, 'HAWK-I Ks');
  mapLabels(p);
  colorbar('hawk-colorbar', barL[1], barR[1], barTop[0], barBot[0], 0, 40900, cmapGray, hawkBarTicks);

  p = makePanel('galfit-panel', colL[2], colR[2], rowTop[0], rowBot[0], -2.5, 2.5, -2.5, 2.5);
  background(p, '#ffffff');
  l = blurLayer(p, 'blur-small');
  drawCells(p, l, galfitCore, -0.92, 1.08, 1.2, -0.8, cmapGray, 0, 37.4, 0.3);
  frameAndTicks(p, mapTicks, mapTicks);
  title(p, 'Galfit Exponential (n=1)');
  mapLabels(p);
  colorbar('galfit-colorbar', barL[2], barR[2], barTop[0], barBot[0], 0, 37400, cmapGray, galfitBarTicks);

  p = makePanel('residuals-panel', colL[3], colR[3], rowTop[0], rowBot[0], -2.5, 2.5, -2.5, 2.5);
  background(p, '#949494');
  drawCells(p, p.plot, residuals, -2.5, 2.5, 2.5, -2.5, cmapGray, -5.84, 7.6, 0.3);
  frameAndTicks(p, mapTicks, mapTicks);
  title(p, 'Residuals');
  mapLabels(p);
  colorbar('residuals-colorbar', barL[3], barR[3], barTop[0], barBot[0], -7590, 9890, cmapGray, residualBarTicks);
})();

/* ---------- row 2: flux ---------- */
(function () {
  let p = makePanel('snr-panel', colL[0], colR[0], rowTop[1], rowBot[1], -2.5, 2.5, -2.5, 2.5);
  background(p, colorAt(cmapYlOrRd, 7 / 20));
  const l = blurLayer(p, 'blur-large');
  drawCells(p, l, snrGrid, -2.5, 2.5, 2.5, -2.5, cmapYlOrRd, 0, 20, 0.4);
  const core = make('polygon', p.plot, { points: polyPoints(p, snrInnerX, snrInnerY), fill: '#800026' });
  
  
  contour(p, snrOuterX, snrOuterY, '#5e3a1c', 0.9);
  contour(p, snrInnerX, snrInnerY, '#1a0a0a', 0.9);
  contour(p, snrIslandAX, snrIslandAY, '#2a1a10', 0.8);
  contour(p, snrIslandBX, snrIslandBY, '#2a1a10', 0.8);
  contour(p, snrVeeX, snrVeeY, '#5e3a1c', 0.8, false);
  contour(p, [snrDotX[0], snrDotX[0]], [snrDotY[0] + 0.03, snrDotY[0] - 0.03], '#111', 1, false);
  tinyLabel(p, 0.82, 1.95, '10.0');
  tinyLabel(p, -0.18, 0.6, '20.0');
  tinyLabel(p, 0.67, -0.07, '10.0', 90);
  frameAndTicks(p, mapTicks, mapTicks);
  title(p, 'observed H' + A + ' SNR map');
  mapLabels(p);
  scaleBar(p);
  let g = colorbar('snr-colorbar', barL[0], barR[0], barTop[1], barBot[1], 0, 20, cmapYlOrRd, snrBarTicks, 1);
  barLabel(g, 290, 421.7, 13, '<tspan font-style="italic">SNR</tspan><tspan font-style="italic" font-size="9" dy="2">H\u03b1</tspan>');

  const fluxLabel = 'flux/spectral pixel [10\u207b\u00b2\u2070 \u00b7 erg \u00b7 s\u207b\u00b9 \u00b7 cm\u207b\u00b2 \u00b7 arcsec\u207b\u00b2]';

  p = makePanel('observed-flux-panel', colL[1], colR[1], rowTop[1], rowBot[1], -2.5, 2.5, -2.5, 2.5);
  background(p, '#ffffe5');
  fluxBlob(p, obsOuterX, obsOuterY, obsInnerX, obsInnerY);
  tinyLabel(p, -0.4, 0.55, '300.0');
  tinyLabel(p, 0, 0.68, '400.0');
  frameAndTicks(p, mapTicks, mapTicks);
  title(p, 'observed H' + A + ' flux map');
  mapLabels(p);
  scaleBar(p);
  g = colorbar('observed-flux-colorbar', barL[1], barR[1], barTop[1], barBot[1], 0, 100, cmapYlOrBr, fluxBarTicks);
  barLabel(g, 590, 420.5, 9.5, fluxLabel);

  p = makePanel('modelled-flux-panel', colL[2], colR[2], rowTop[1], rowBot[1], -2.5, 2.5, -2.5, 2.5);
  background(p, '#ffffe5');
  fluxBlob(p, modelOuterX, modelOuterY, modelInnerX, modelInnerY);
  tinyLabel(p, -0.15, 0.47, '300.0');
  frameAndTicks(p, mapTicks, mapTicks);
  title(p, 'modelled' + DS + 'H' + A + ' flux map');
  mapLabels(p);
  scaleBar(p);
  g = colorbar('modelled-flux-colorbar', barL[2], barR[2], barTop[1], barBot[1], 0, 100, cmapYlOrBr, fluxBarTicks);
  barLabel(g, 894, 420.5, 9.5, fluxLabel);
})();

/* ---------- rows 3 and 4: kinematics ---------- */
(function () {
  function kinPanel(name, col, row, bg, grid, yTop, stops, vmin, vmax, outX, outY, inX, inY, ttl) {
    const p = makePanel(name, colL[col], colR[col], rowTop[row], rowBot[row], -2.5, 2.5, -2.5, 2.5);
    background(p, bg);
    const l = make('g', p.plot, {});
    
    
    drawCells(p, l, grid, -0.9, 0.5, yTop, yTop - 0.2 * grid.length, stops, vmin, vmax, 0.2);
    contour(p, outX, outY, '#4a4a4a', 0.9);
    contour(p, inX, inY, '#4a4a4a', 0.9);
    frameAndTicks(p, mapTicks, mapTicks);
    title(p, ttl);
    mapLabels(p);
    scaleBar(p);
    return p;
  }
  kinPanel('observed-velocity-panel', 0, 2, '#f7f6f6', obsVelocity, 0.9, cmapRdBu, -100, 100, obsOuterX, obsOuterY, obsInnerX, obsInnerY, 'observed H' + A + ' velocity map');
  let g = colorbar('observed-velocity-colorbar', barL[0], barR[0], barTop[2], barBot[2], -100, 100, cmapRdBu, velocityBarTicks);
  barLabel(g, 294, 717, 11.4, '[<tspan font-style="italic">km/s</tspan>]');
  kinPanel('modelled-velocity-panel', 1, 2, '#ffffff', modelVelocity, 0.7, cmapRdBu, -100, 100, modelOuterX, modelOuterY, modelInnerX, modelInnerY, 'modelled' + DS + 'H' + A + ' velocity map');
  g = colorbar('modelled-velocity-colorbar', barL[1], barR[1], barTop[2], barBot[2], -100, 100, cmapRdBu, velocityBarTicks);
  barLabel(g, 597, 717, 11.4, '[<tspan font-style="italic">km/s</tspan>]');
  kinPanel('observed-dispersion-panel', 0, 3, '#ffffff', obsDispersion, 0.9, cmapCopper, 0, 200, obsOuterX, obsOuterY, obsInnerX, obsInnerY, 'observed H' + A + ' velocity dispersion map');
  g = colorbar('observed-dispersion-colorbar', barL[0], barR[0], barTop[3], barBot[3], 0, 200, cmapCopper, dispersionBarTicks);
  barLabel(g, 294, 1012.5, 11.4, '[<tspan font-style="italic">km/s</tspan>]');
  kinPanel('modelled-dispersion-panel', 1, 3, '#ffffff', modelDispersion, 0.7, cmapCopper, 0, 200, modelOuterX, modelOuterY, modelInnerX, modelInnerY, 'modelled' + DS + 'H' + A + ' velocity dispersion map');
  g = colorbar('modelled-dispersion-colorbar', barL[1], barR[1], barTop[3], barBot[3], 0, 200, cmapCopper, dispersionBarTicks);
  barLabel(g, 597, 1012.5, 11.4, '[<tspan font-style="italic">km/s</tspan>]');

  function profile(name, top, bottom, ymin, ymax, ys, yTicks, ttl, ylabel) {
    const p = makePanel(name, 638, 890, top, bottom, -14.87, 17, ymin, ymax);
    background(p, '#ffffff');
    const line = make('polyline', p.plot, { points: polyPoints(p, profileX, ys), fill: 'none', stroke: '#222', 'stroke-width': 0.9 });
    
    
    profileX.forEach((x, i) => {
      const d = make('circle', p.plot, { cx: p.sx(x), cy: p.sy(ys[i]), r: 0.9, fill: '#111' });
      
      
    });
    frameAndTicks(p, profileXTicks, yTicks, true);
    const t = make('text', p.g, { x: 764, y: top - 3, 'text-anchor': 'middle', 'font-size': 11 });
    t.textContent = ttl;
    
    
    const xl = make('text', p.g, { x: 765, y: bottom + 21.5, 'text-anchor': 'middle', 'font-size': 10.8 });
    xl.textContent = 'x[kpc]';
    
    
    const cy = (top + bottom) / 2;
    const yl = make('text', p.g, { x: 921, y: cy, 'text-anchor': 'middle', 'font-size': 11, transform: 'rotate(-90 921 ' + cy + ')' });
    yl.innerHTML = ylabel;
    
    
  }
  profile('velocity-profile-panel', barTop[2], barBot[2], -43.3, 43.3, velocityProfile, velocityProfileTicks, 'modelled' + DS + 'velocity profile', '<tspan font-style="italic">v</tspan><tspan font-style="italic" font-size="7.4" dy="1.8">l.o.s</tspan><tspan dy="-1.8"> [km/s]</tspan>');
  profile('dispersion-profile-panel', barTop[3], barBot[3], 0, 200, dispersionProfile, dispersionProfileTicks, 'modelled' + DS + 'velocity dispersion profile', '<tspan font-style="italic">\u03c3</tspan> [km/s]');
})();
</script>
</body>
</html>
